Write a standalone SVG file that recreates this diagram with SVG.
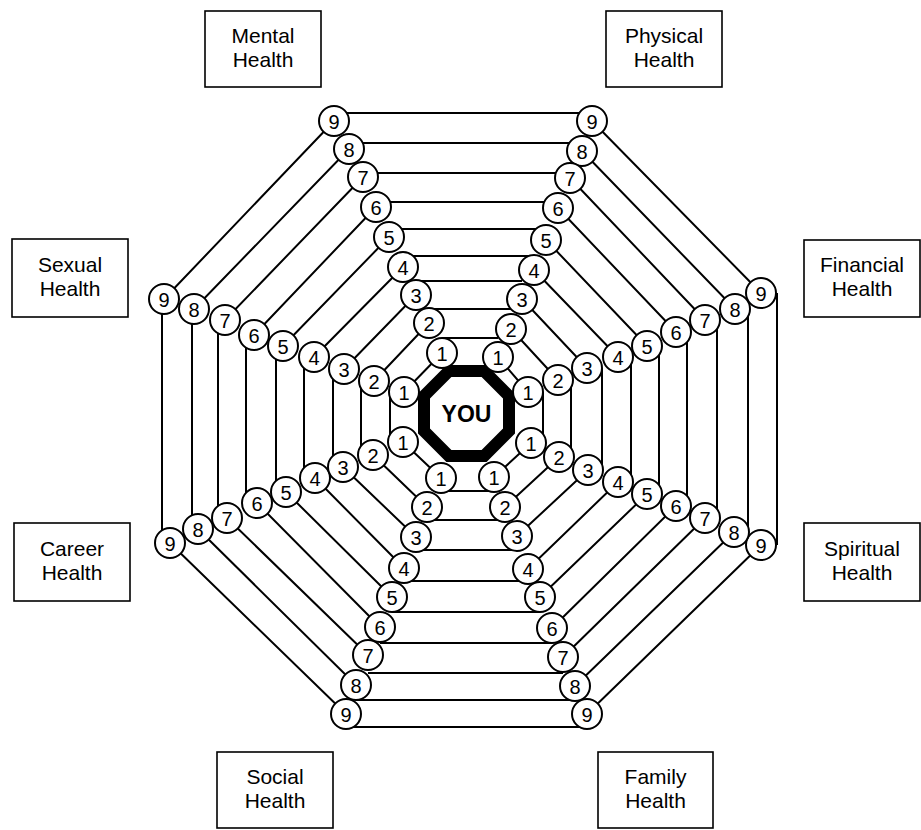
<svg xmlns="http://www.w3.org/2000/svg" width="921" height="830" viewBox="0 0 921 830">
<style>
.bg{fill:#fff}
.ring{fill:none;stroke:#000;stroke-width:2}
.box rect{fill:#fff;stroke:#000;stroke-width:1.6}
.box text{font-family:"Liberation Sans",Arial,sans-serif;font-size:21px;fill:#000;text-anchor:middle}
.n circle{fill:#fff;stroke:#000;stroke-width:2}
.n text{font-family:"Liberation Sans",Arial,sans-serif;font-size:20px;fill:#000;text-anchor:middle}
.you polygon{fill:#fff;stroke:#000;stroke-width:12;stroke-linejoin:miter}
.you text{font-family:"Liberation Sans",Arial,sans-serif;font-size:23px;font-weight:bold;fill:#000;text-anchor:middle}
</style>
<rect class="bg" x="0" y="0" width="921" height="830"/>
<g id="labels">
<g id="mental" class="box"><rect x="205" y="11" width="116" height="76"/><text x="263" y="43">Mental<tspan x="263" dy="24">Health</tspan></text></g>
<g id="physical" class="box"><rect x="606" y="11" width="116" height="76"/><text x="664" y="43">Physical<tspan x="664" dy="24">Health</tspan></text></g>
<g id="sexual" class="box"><rect x="12" y="239" width="116" height="78"/><text x="70" y="272">Sexual<tspan x="70" dy="24">Health</tspan></text></g>
<g id="financial" class="box"><rect x="804" y="240" width="116" height="77"/><text x="862" y="272">Financial<tspan x="862" dy="24">Health</tspan></text></g>
<g id="career" class="box"><rect x="14" y="523" width="116" height="78"/><text x="72" y="556">Career<tspan x="72" dy="24">Health</tspan></text></g>
<g id="spiritual" class="box"><rect x="804" y="523" width="116" height="78"/><text x="862" y="556">Spiritual<tspan x="862" dy="24">Health</tspan></text></g>
<g id="social" class="box"><rect x="217" y="752" width="116" height="76"/><text x="275" y="784">Social<tspan x="275" dy="24">Health</tspan></text></g>
<g id="family" class="box"><rect x="598" y="752" width="115" height="76"/><text x="655.5" y="784">Family<tspan x="655.5" dy="24">Health</tspan></text></g>
</g>
<g id="connectors" class="ring">
<path id="ring9" d="M334 113H592M592 121L761 293M777 293V545M761 545L587 714M587 727H346M346 714L170 543M162 543V299M164 299L334 121"/>
<path id="ring8" d="M349 143H582M582 151L735 309M748 309V532M734 532L575 686M575 700H356M356 685L198 529M192 529V309M194 309L349 149"/>
<path id="ring7" d="M363 173H570M570 178L705 320M717 320V518M705 518L563 657M563 673H368M368 655L227 518M218 518V320M225 320L363 177"/>
<path id="ring6" d="M376 202H558M558 208L676 332M687 332V506M676 506L552 628M552 643H380M380 627L257 503M246 503V335M254 335L376 207"/>
<path id="ring5" d="M389 229H546M546 240L647 346M659 346V494M647 494L540 597M540 612H392M392 597L286 492M276 492V346M283 346L389 237"/>
<path id="ring4" d="M403 256H534M534 270L618 357M631 357V482M618 482L528 569M528 581H404M404 568L315 478M304 478V357M314 357L403 267"/>
<path id="ring3" d="M416 281H522M522 299L587 368M602 368V470M588 470L517 536M517 550H416M416 537L343 467M333 467V369M344 369L416 295"/>
<path id="ring2" d="M429 309H511M511 329L558 380M571 380V457M559 457L505 507M505 520H427M427 507L373 455M361 455V381M374 381L429 323"/>
<path id="ring1" d="M442 338H498M498 357L528 392M543 392V443M531 443L494 477M494 491H441M441 478L403 442M390 442V392M404 392L442 353"/>
</g>
<g id="you" class="you"><polygon points="448.9,371 484.1,371 509,395.9 509,431.1 484.1,456 448.9,456 424,431.1 424,395.9"/><text x="466.5" y="422">YOU</text></g>
<g id="numbers">
<g id="tl9" class="n" transform="translate(334,121)"><circle r="15"/><text y="8">9</text></g>
<g id="tl8" class="n" transform="translate(349,149)"><circle r="15"/><text y="8">8</text></g>
<g id="tl7" class="n" transform="translate(363,177)"><circle r="15"/><text y="8">7</text></g>
<g id="tl6" class="n" transform="translate(376,207)"><circle r="15"/><text y="8">6</text></g>
<g id="tl5" class="n" transform="translate(389,237)"><circle r="15"/><text y="8">5</text></g>
<g id="tl4" class="n" transform="translate(403,267)"><circle r="15"/><text y="8">4</text></g>
<g id="tl3" class="n" transform="translate(416,295)"><circle r="15"/><text y="8">3</text></g>
<g id="tl2" class="n" transform="translate(429,323)"><circle r="15"/><text y="8">2</text></g>
<g id="tl1" class="n" transform="translate(442,353)"><circle r="15"/><text y="8">1</text></g>
<g id="tr9" class="n" transform="translate(592,121)"><circle r="15"/><text y="8">9</text></g>
<g id="tr8" class="n" transform="translate(582,151)"><circle r="15"/><text y="8">8</text></g>
<g id="tr7" class="n" transform="translate(570,178)"><circle r="15"/><text y="8">7</text></g>
<g id="tr6" class="n" transform="translate(558,208)"><circle r="15"/><text y="8">6</text></g>
<g id="tr5" class="n" transform="translate(546,240)"><circle r="15"/><text y="8">5</text></g>
<g id="tr4" class="n" transform="translate(534,270)"><circle r="15"/><text y="8">4</text></g>
<g id="tr3" class="n" transform="translate(522,299)"><circle r="15"/><text y="8">3</text></g>
<g id="tr2" class="n" transform="translate(511,329)"><circle r="15"/><text y="8">2</text></g>
<g id="tr1" class="n" transform="translate(498,357)"><circle r="15"/><text y="8">1</text></g>
<g id="rt9" class="n" transform="translate(761,293)"><circle r="15"/><text y="8">9</text></g>
<g id="rt8" class="n" transform="translate(735,309)"><circle r="15"/><text y="8">8</text></g>
<g id="rt7" class="n" transform="translate(705,320)"><circle r="15"/><text y="8">7</text></g>
<g id="rt6" class="n" transform="translate(676,332)"><circle r="15"/><text y="8">6</text></g>
<g id="rt5" class="n" transform="translate(647,346)"><circle r="15"/><text y="8">5</text></g>
<g id="rt4" class="n" transform="translate(618,357)"><circle r="15"/><text y="8">4</text></g>
<g id="rt3" class="n" transform="translate(587,368)"><circle r="15"/><text y="8">3</text></g>
<g id="rt2" class="n" transform="translate(558,380)"><circle r="15"/><text y="8">2</text></g>
<g id="rt1" class="n" transform="translate(528,392)"><circle r="15"/><text y="8">1</text></g>
<g id="rb9" class="n" transform="translate(761,545)"><circle r="15"/><text y="8">9</text></g>
<g id="rb8" class="n" transform="translate(734,532)"><circle r="15"/><text y="8">8</text></g>
<g id="rb7" class="n" transform="translate(705,518)"><circle r="15"/><text y="8">7</text></g>
<g id="rb6" class="n" transform="translate(676,506)"><circle r="15"/><text y="8">6</text></g>
<g id="rb5" class="n" transform="translate(647,494)"><circle r="15"/><text y="8">5</text></g>
<g id="rb4" class="n" transform="translate(618,482)"><circle r="15"/><text y="8">4</text></g>
<g id="rb3" class="n" transform="translate(588,470)"><circle r="15"/><text y="8">3</text></g>
<g id="rb2" class="n" transform="translate(559,457)"><circle r="15"/><text y="8">2</text></g>
<g id="rb1" class="n" transform="translate(531,443)"><circle r="15"/><text y="8">1</text></g>
<g id="br9" class="n" transform="translate(587,714)"><circle r="15"/><text y="8">9</text></g>
<g id="br8" class="n" transform="translate(575,686)"><circle r="15"/><text y="8">8</text></g>
<g id="br7" class="n" transform="translate(563,657)"><circle r="15"/><text y="8">7</text></g>
<g id="br6" class="n" transform="translate(552,628)"><circle r="15"/><text y="8">6</text></g>
<g id="br5" class="n" transform="translate(540,597)"><circle r="15"/><text y="8">5</text></g>
<g id="br4" class="n" transform="translate(528,569)"><circle r="15"/><text y="8">4</text></g>
<g id="br3" class="n" transform="translate(517,536)"><circle r="15"/><text y="8">3</text></g>
<g id="br2" class="n" transform="translate(505,507)"><circle r="15"/><text y="8">2</text></g>
<g id="br1" class="n" transform="translate(494,477)"><circle r="15"/><text y="8">1</text></g>
<g id="bl9" class="n" transform="translate(346,714)"><circle r="15"/><text y="8">9</text></g>
<g id="bl8" class="n" transform="translate(356,685)"><circle r="15"/><text y="8">8</text></g>
<g id="bl7" class="n" transform="translate(368,655)"><circle r="15"/><text y="8">7</text></g>
<g id="bl6" class="n" transform="translate(380,627)"><circle r="15"/><text y="8">6</text></g>
<g id="bl5" class="n" transform="translate(392,597)"><circle r="15"/><text y="8">5</text></g>
<g id="bl4" class="n" transform="translate(404,568)"><circle r="15"/><text y="8">4</text></g>
<g id="bl3" class="n" transform="translate(416,537)"><circle r="15"/><text y="8">3</text></g>
<g id="bl2" class="n" transform="translate(427,507)"><circle r="15"/><text y="8">2</text></g>
<g id="bl1" class="n" transform="translate(441,478)"><circle r="15"/><text y="8">1</text></g>
<g id="lb9" class="n" transform="translate(170,543)"><circle r="15"/><text y="8">9</text></g>
<g id="lb8" class="n" transform="translate(198,529)"><circle r="15"/><text y="8">8</text></g>
<g id="lb7" class="n" transform="translate(227,518)"><circle r="15"/><text y="8">7</text></g>
<g id="lb6" class="n" transform="translate(257,503)"><circle r="15"/><text y="8">6</text></g>
<g id="lb5" class="n" transform="translate(286,492)"><circle r="15"/><text y="8">5</text></g>
<g id="lb4" class="n" transform="translate(315,478)"><circle r="15"/><text y="8">4</text></g>
<g id="lb3" class="n" transform="translate(343,467)"><circle r="15"/><text y="8">3</text></g>
<g id="lb2" class="n" transform="translate(373,455)"><circle r="15"/><text y="8">2</text></g>
<g id="lb1" class="n" transform="translate(403,442)"><circle r="15"/><text y="8">1</text></g>
<g id="lt9" class="n" transform="translate(164,299)"><circle r="15"/><text y="8">9</text></g>
<g id="lt8" class="n" transform="translate(194,309)"><circle r="15"/><text y="8">8</text></g>
<g id="lt7" class="n" transform="translate(225,320)"><circle r="15"/><text y="8">7</text></g>
<g id="lt6" class="n" transform="translate(254,335)"><circle r="15"/><text y="8">6</text></g>
<g id="lt5" class="n" transform="translate(283,346)"><circle r="15"/><text y="8">5</text></g>
<g id="lt4" class="n" transform="translate(314,357)"><circle r="15"/><text y="8">4</text></g>
<g id="lt3" class="n" transform="translate(344,369)"><circle r="15"/><text y="8">3</text></g>
<g id="lt2" class="n" transform="translate(374,381)"><circle r="15"/><text y="8">2</text></g>
<g id="lt1" class="n" transform="translate(404,392)"><circle r="15"/><text y="8">1</text></g>
</g>
</svg>
